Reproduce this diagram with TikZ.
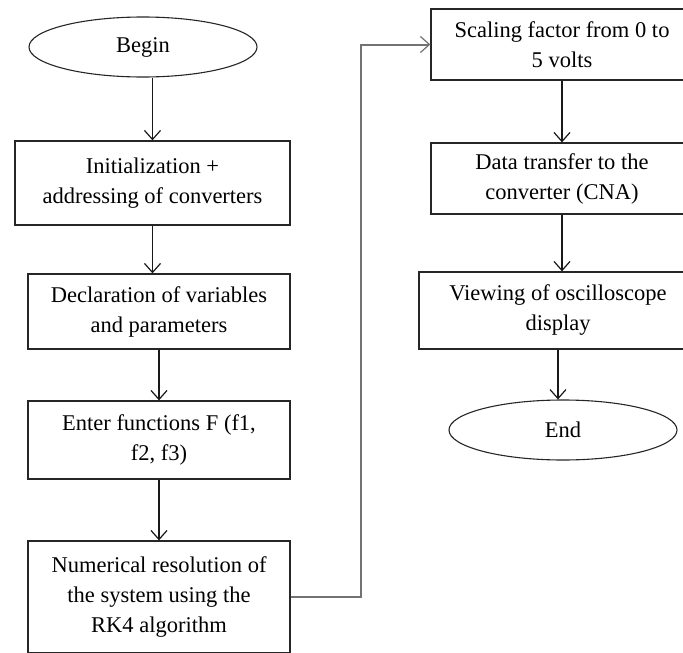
\documentclass[tikz,border=0pt]{standalone}
\usepackage{fontspec}
\setmainfont{Liberation Serif}
\usetikzlibrary{shapes.geometric,arrows.meta}
\begin{document}
\begin{tikzpicture}[x=1pt,y=-1pt,
  box/.style={draw=black!85,line width=1.3pt,rectangle,align=center,inner sep=0pt,
    font=\fontsize{22.5}{30}\selectfont},
  term/.style={draw=black!85,line width=1.1pt,ellipse,inner sep=0pt,
    minimum width=228pt,minimum height=60pt,font=\fontsize{22.5}{30}\selectfont},
  flow/.style={draw=black!90,line width=1.3pt,-{Straight Barb[length=9pt,width=16pt,line width=1.2pt]}},
  link/.style={draw=black!55,line width=2pt,-{Straight Barb[length=9pt,width=16pt,line width=1.2pt]}}]
\useasboundingbox (0,0) rectangle (683,653);
\clip (0,0) rectangle (683,653);
\node[term] (begin) at (143,47) {Begin};
\node[box,minimum width=275pt,minimum height=84pt] (b1) at (152.5,183) {Initialization +\\addressing of converters};
\node[box,minimum width=262pt,minimum height=75pt] (b2) at (159,311.5) {Declaration of variables\\and parameters};
\node[box,minimum width=262pt,minimum height=78pt] (b3) at (159,440) {Enter functions F (f1,\\f2, f3)};
\node[box,minimum width=262pt,minimum height=112pt] (b4) at (159,597) {Numerical resolution of\\the system using the\\RK4 algorithm};
\node[box,minimum width=262pt,minimum height=71pt] (b5) at (562,44.5) {Scaling factor from 0 to\\5 volts};
\node[box,minimum width=262pt,minimum height=71pt] (b6) at (562,178.5) {Data transfer to the\\converter (CNA)};
\node[box,minimum width=278pt,minimum height=77pt] (b7) at (558,310.5) {Viewing of oscilloscope\\display};
\node[term] (end) at (563,430) {End};
\coordinate (c1) at (361,597);
\coordinate (c2) at (361,44.5);
\draw[flow] (b1.north |- begin.south) -- (b1.north);
\draw[flow] (b1.south) -- (b1.south |- b2.north);
\draw[flow] (b2.south) -- (b3.north);
\draw[flow] (b3.south) -- (b4.north);
\draw[link] (b4.east) -- (c1) -- (c2) -- (b5.west);
\draw[flow] (b5.south) -- (b6.north);
\draw[flow] (b6.south) -- (b6.south |- b7.north);
\draw[flow] (b7.south) -- (b7.south |- end.north);
\end{tikzpicture}
\end{document}
